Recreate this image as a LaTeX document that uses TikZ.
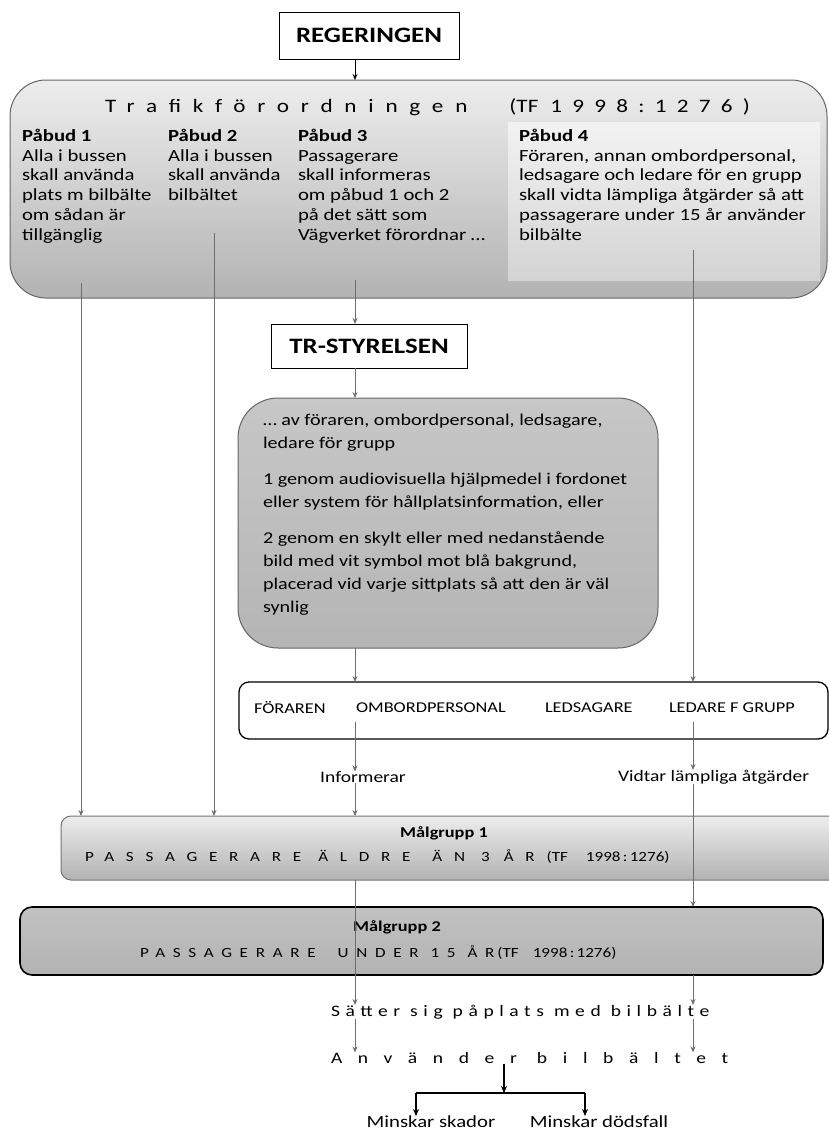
\documentclass[tikz,border=0pt]{standalone}
\usepackage{fontspec}
\setmainfont{Carlito}[FakeStretch=1.22]
\usetikzlibrary{arrows.meta}
\definecolor{conncol}{HTML}{6E6E6E}
\newcommand{\spaced}[2]{{\addfontfeatures{LetterSpace=#1}#2}}
\begin{document}
\begin{tikzpicture}[x=1pt,y=-1pt,
  every node/.style={inner sep=0pt, outer sep=0pt},
  hbox/.style={draw=black, line width=1pt, fill=white, font=\fontsize{22}{26}\selectfont\bfseries},
  conn/.style={draw=conncol, line width=0.9pt, -{Stealth[length=6pt,width=5pt]}},
  blkline/.style={draw=black, line width=1.4pt},
  blkarr/.style={draw=black, line width=1.4pt, -{Stealth[length=7pt,width=6pt]}},
  thinarr/.style={draw=black, line width=0.9pt, -{Stealth[length=6pt,width=5pt]}},
  ptext/.style={font=\fontsize{17}{19.8}\selectfont, align=left, anchor=north west},
  gtext/.style={font=\fontsize{16.5}{23}\selectfont, align=left, anchor=north west},
  ltext/.style={font=\fontsize{16}{19}\selectfont},
  ctext/.style={font=\fontsize{15}{18}\selectfont, anchor=west},
  mtext/.style={font=\fontsize{14}{17}\selectfont, anchor=west},
  mhead/.style={font=\fontsize{15}{18}\selectfont\bfseries}
]
\useasboundingbox (0,0) rectangle (829,1133);

% column x positions
\coordinate (xA) at (81,0);
\coordinate (xB) at (214,0);
\coordinate (xC) at (355,0);
\coordinate (xD) at (693,0);
\coordinate (xE) at (504,0);

% REGERINGEN
\node[hbox, minimum width=180, minimum height=47, anchor=north west] (reg) at (279,12) {REGERINGEN};

% Trafikforordningen box
\node[draw=black!60, line width=1pt, rounded corners=36, top color=black!7, bottom color=black!30,
      minimum width=817, minimum height=218, anchor=north west] (tf) at (10,80) {};
\node[top color=black!5, bottom color=black!17, minimum width=312, minimum height=158, anchor=north west] (p4bg) at (508,122) {};
\node[font=\fontsize{19}{22}\selectfont, anchor=west] (tft) at (105,107)
  {\spaced{62}{Trafikförordningen}\hspace{42pt}(TF\hspace{12pt}\spaced{54}{1998:1276)}};

\node[ptext] (p1) at (22,129) {\textbf{Påbud 1}\\Alla i bussen\\skall använda\\plats m bilbälte\\om sådan är\\tillgänglig};
\node[ptext] (p2) at (168,129) {\textbf{Påbud 2}\\Alla i bussen\\skall använda\\bilbältet};
\node[ptext] (p3) at (298,129) {\textbf{Påbud 3}\\Passagerare\\skall informeras\\om påbud 1 och 2\\på det sätt som\\Vägverket förordnar \dots};
\node[ptext] (p4) at (519,129) {\textbf{Påbud 4}\\Föraren, annan ombordpersonal,\\ledsagare och ledare för en grupp\\skall vidta lämpliga åtgärder så att\\passagerare under 15 år använder\\bilbälte};

\coordinate (s1) at (81,283);
\coordinate (s2) at (214,233);
\coordinate (s3) at (355,280);
\coordinate (s4) at (693,250);

% TR-STYRELSEN
\node[hbox, minimum width=196, minimum height=44, anchor=north west] (trs) at (271,324) {TR-STYRELSEN};

% grey box
\node[draw=black!60, line width=1pt, rounded corners=40, top color=black!22, bottom color=black!29,
      minimum width=420, minimum height=250, anchor=north west] (gb) at (238,398) {};
\node[gtext] (gbt) at (263,414) {\dots\ av föraren, ombordpersonal, ledsagare,\\ledare för grupp\\[13pt]1 genom audiovisuella hjälpmedel i fordonet\\eller system för hållplatsinformation, eller\\[13pt]2 genom en skylt eller med nedanstående\\bild med vit symbol mot blå bakgrund,\\placerad vid varje sittplats så att den är väl\\synlig};

% people box
\node[draw=black, line width=1.3pt, fill=white, rounded corners=10, minimum width=589, minimum height=57, anchor=north west] (ppl) at (239,682) {};
\node[ctext] (n1) at (254,708) {FÖRAREN};
\node[ctext] (n2) at (356,708) {OMBORDPERSONAL};
\node[ctext] (n3) at (545,708) {LEDSAGARE};
\node[ctext] (n4) at (669,708) {LEDARE F GRUPP};
\coordinate (s5) at (355,722);
\coordinate (s6) at (693,722);

\node[ltext] (info) at (363,777) {Informerar};
\node[ltext, anchor=west] (vid) at (618,777) {Vidtar lämpliga åtgärder};

% Malgrupp 1
\node[draw=black!55, line width=1pt, rounded corners=10, top color=black!7, bottom color=black!30,
      minimum width=790, minimum height=64, anchor=north west] (mg1) at (61,816) {};
\node[mhead] (mg1h) at (444,833) {Målgrupp 1};
\node[mtext] (mg1t) at (85,857) {\spaced{84}{PASSAGERARE}\hspace{17pt}\spaced{84}{ÄLDRE}\hspace{22pt}\spaced{84}{ÄN}\hspace{16pt}3\hspace{14pt}\spaced{84}{ÅR}\hspace{12pt}(TF\quad\ 1998\,:\,1276)};

% Malgrupp 2
\node[draw=black, line width=1.6pt, rounded corners=12, top color=black!24, bottom color=black!30,
      minimum width=803, minimum height=68, anchor=north west] (mg2) at (20,907) {};
\node[mhead] (mg2h) at (397,927) {Målgrupp 2};
\node[mtext] (mg2t) at (140,953) {\spaced{55}{PASSAGERARE}\hspace{22pt}\spaced{55}{UNDER}\hspace{12pt}\spaced{55}{15}\hspace{12pt}\spaced{55}{ÅR}\hspace{3pt}(TF\quad 1998\,:\,1276)};

% result lines
\node[font=\fontsize{16}{19}\selectfont, anchor=west] (sat) at (331,1012) {\spaced{35}{Sätter sig påplats med bilbälte}};
\node[font=\fontsize{16}{19}\selectfont, anchor=west] (anv) at (331,1058) {\spaced{98}{Använder bilbältet}};

\node[font=\fontsize{17}{20}\selectfont, anchor=north] (ms1) at (431,1116) {Minskar skador};
\node[font=\fontsize{17}{20}\selectfont, anchor=north] (ms2) at (599,1116) {Minskar dödsfall};
\coordinate (brL) at (416,1093);
\coordinate (brR) at (585,1093);

% connectors
\draw[thinarr] (reg.south -| xC) -- (tf.north -| xC);
\draw[conn] (s1) -- (mg1.north -| xA);
\draw[conn] (s2) -- (mg1.north -| xB);
\draw[conn] (s3) -- (trs.north -| xC);
\draw[conn] (s4) -- (ppl.north -| xD);
\draw[conn] (trs.south -| xC) -- (gb.north -| xC);
\draw[conn] (gb.south -| xC) -- (ppl.north -| xC);
\draw[conn] (s5) -- (info.north -| xC);
\draw[conn] (s6) -- (vid.north -| xD);
\draw[conn] (info.south -| xC) -- (mg1.north -| xC);
\draw[conn] (vid.south -| xD) -- (mg2.north -| xD);
\draw[conn] (mg1.south -| xC) -- (sat.north -| xC);
\draw[conn] (mg2.south -| xD) -- (sat.north -| xD);
\draw[conn] (sat.south -| xC) -- (anv.north -| xC);
\draw[conn] (sat.south -| xD) -- (anv.north -| xD);

\draw[blkarr] (anv.south -| xE) -- (xE |- brL);
\draw[blkline] (brL) -- (brR);
\draw[blkarr] (brL) -- (brL |- ms1.north);
\draw[blkarr] (brR) -- (brR |- ms2.north);
\end{tikzpicture}
\end{document}
